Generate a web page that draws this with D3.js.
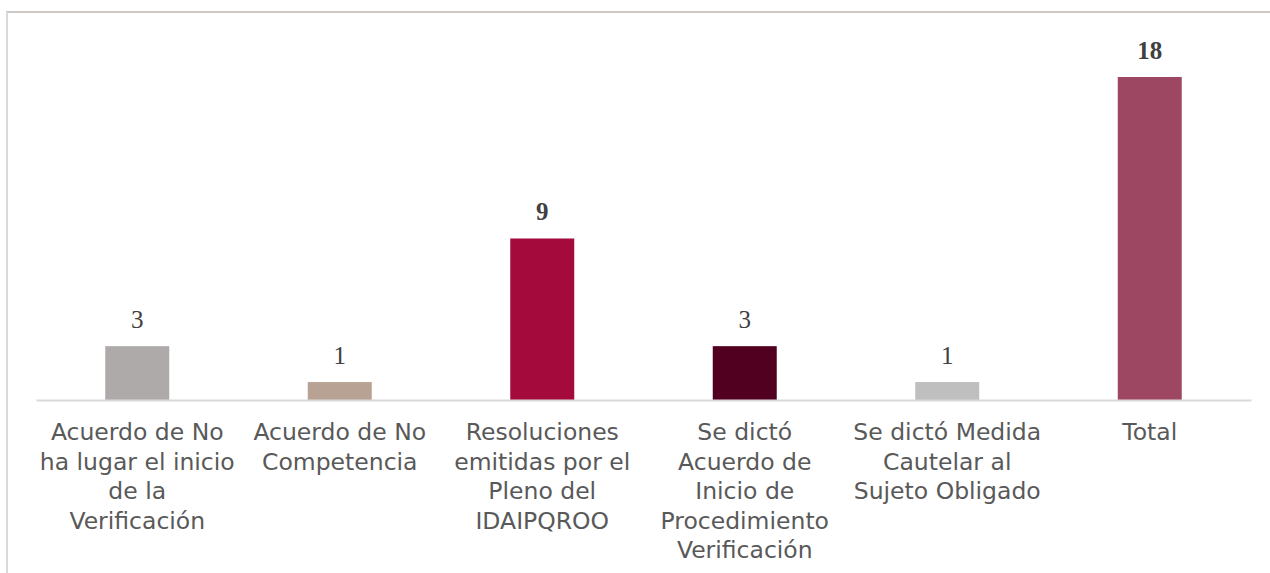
<!DOCTYPE html>
<html>
<head>
<meta charset="utf-8">
<script src="https://cdn.jsdelivr.net/npm/d3@7"></script>
<style>
  body { margin: 0; background: #fff; }
</style>
</head>
<body>
<div id="chart"></div>
<script>
var categories = [
    "Acuerdo de No ha lugar el inicio de la Verificación",
    "Acuerdo de No Competencia",
    "Resoluciones emitidas por el Pleno del IDAIPQROO",
    "Se dictó Acuerdo de Inicio de Procedimiento Verificación",
    "Se dictó Medida Cautelar al Sujeto Obligado",
    "Total"
];
var labelLines = [
    ["Acuerdo de No", "ha lugar el inicio", "de la", "Verificación"],
    ["Acuerdo de No", "Competencia"],
    ["Resoluciones", "emitidas por el", "Pleno del", "IDAIPQROO"],
    ["Se dictó", "Acuerdo de", "Inicio de", "Procedimiento", "Verificación"],
    ["Se dictó Medida", "Cautelar al", "Sujeto Obligado"],
    ["Total"]
];
var values = [3, 1, 9, 3, 1, 18];
var barColors = ["#aeaaaa", "#b8a294", "#a50a3c", "#52001f", "#bfbfbf", "#9e4762"];
var boldLabels = [false, false, true, false, false, true];

var width = 1270, height = 573;
var margin = {left: 36, right: 19, top: 77, baseline: 400};

var svg = d3.select("#chart").append("svg")
    .attr("width", width)
    .attr("height", height);

// chart frame
svg.append("line").attr("x1", 6).attr("x2", width).attr("y1", 12).attr("y2", 12)
    .attr("stroke", "#bfb7b2").attr("stroke-width", 1.5);
svg.append("line").attr("x1", 7).attr("x2", 7).attr("y1", 12).attr("y2", height)
    .attr("stroke", "#d9d9d9").attr("stroke-width", 2);

var x = d3.scaleBand()
    .domain(categories)
    .range([margin.left, width - margin.right])
    .paddingInner(0.684)
    .paddingOuter(0.342);

var y = d3.scaleLinear()
    .domain([0, 18])
    .range([margin.baseline, margin.top]);

svg.selectAll("rect.bar")
    .data(values)
    .enter()
    .append("rect")
    .attr("class", "bar")
    .attr("x", function(d, i) { return x(categories[i]); })
    .attr("width", x.bandwidth())
    .attr("y", function(d) { return y(d); })
    .attr("height", function(d) { return y(0) - y(d); })
    .attr("fill", function(d, i) { return barColors[i]; });

// value labels
svg.selectAll("text.val")
    .data(values)
    .enter()
    .append("text")
    .attr("class", "val")
    .attr("x", function(d, i) { return x(categories[i]) + x.bandwidth() / 2; })
    .attr("y", function(d) { return y(d) - 18.5; })
    .attr("text-anchor", "middle")
    .style("font-family", "'Liberation Serif', 'Times New Roman', serif")
    .style("font-size", "25px")
    .style("font-weight", function(d, i) { return boldLabels[i] ? "bold" : "normal"; })
    .style("fill", "#404040")
    .text(function(d) { return d; });

// category axis
var xAxis = svg.append("g")
    .attr("transform", "translate(0," + margin.baseline + ")")
    .call(d3.axisBottom(x).tickSize(0).tickPadding(0));

xAxis.select(".domain")
    .attr("stroke", "#d9d9d9")
    .attr("stroke-width", 2);

xAxis.selectAll(".tick text")
    .each(function(d) {
        var lines = labelLines[categories.indexOf(d)];
        var t = d3.select(this).text(null)
            .attr("y", 0)
            .attr("dy", null)
            .style("font-family", "'DejaVu Sans', sans-serif")
            .style("font-size", "23.5px")
            .style("fill", "#595959");
        lines.forEach(function(line, k) {
            t.append("tspan")
                .attr("x", 0)
                .attr("y", 40 + k * 29.5)
                .text(line);
        });
    });
</script>
</body>
</html>
